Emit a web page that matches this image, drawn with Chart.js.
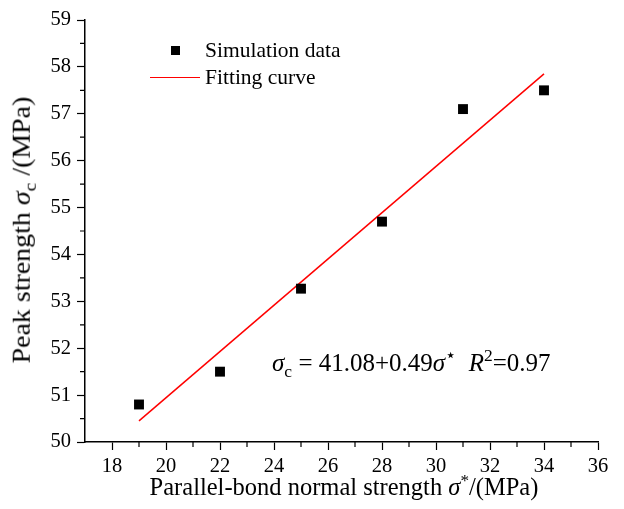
<!DOCTYPE html>
<html>
<head>
<meta charset="utf-8">
<script src="https://cdn.jsdelivr.net/npm/chart.js@4"></script>
<style>
  body { margin: 0; background: #fff; }
  #wrap { position: relative; width: 624px; height: 509px; font-family: "Liberation Serif", "DejaVu Serif", serif; color: #000; }
  #wrap canvas { position: absolute; left: 0; top: 0; }
  .txt { position: absolute; white-space: nowrap; line-height: 1; }
  .c { transform: translate(-50%, -50%); }
  .l { transform: translate(0, -50%); }
  sub, sup { font-size: 70%; line-height: 0; }
  .mk-sq { position: absolute; width: 9px; height: 9px; background: #000; }
  .mk-ln { position: absolute; width: 50px; height: 0; border-top: 1.5px solid #f00; }
</style>
</head>
<body>
<div id="wrap">
  <canvas id="chart" width="624" height="509"></canvas>
  <div class="txt" style="left:22px; top:230px; font-size:24.5px; transform: translate(-50%,-50%) rotate(-90deg) scale(1.14,1);">Peak strength <i>σ</i><sub>c</sub> /(MPa)</div>
  <div class="txt c" style="left:344px; top:487px; font-size:24.5px;">Parallel-bond normal strength <i>σ</i><sup>*</sup>/(MPa)</div>
  <div class="mk-sq" style="left:171px; top:46px;"></div>
  <div class="txt l" style="left:205px; top:51px; font-size:21.5px;">Simulation data</div>
  <div class="mk-ln" style="left:150px; top:77px;"></div>
  <div class="txt l" style="left:205px; top:78px; font-size:21.5px;">Fitting curve</div>
  <div class="txt l" style="left:272px; top:362px; font-size:25px;"><i>σ</i><sub>c</sub> = 41.08+0.49<i>σ</i><sup>⋆</sup> &nbsp;<i>R</i><sup>2</sup>=0.97</div>
</div>
<script>
const simX = [19, 22, 25, 28, 31, 34];
const simY = [50.8, 51.5, 53.27, 54.7, 57.1, 57.5];
const fitX = [19, 34];
const fitY = [50.45, 57.85];
const xTicks = [18, 20, 22, 24, 26, 28, 30, 32, 34, 36];
const xMinor = [19, 21, 23, 25, 27, 29, 31, 33, 35];
const yTicks = [50, 51, 52, 53, 54, 55, 56, 57, 58, 59];
const yMinor = [50.5, 51.5, 52.5, 53.5, 54.5, 55.5, 56.5, 57.5, 58.5];

const minorTicks = {
  id: 'minorTicks',
  afterDraw(chart) {
    const ctx = chart.ctx;
    const xs = chart.scales.x, ys = chart.scales.y;
    ctx.save();
    ctx.strokeStyle = '#000';
    ctx.lineWidth = 1.2;
    ctx.beginPath();
    xMinor.forEach(v => {
      const px = xs.getPixelForValue(v);
      ctx.moveTo(px, xs.top);
      ctx.lineTo(px, xs.top + 5);
    });
    yMinor.forEach(v => {
      const py = ys.getPixelForValue(v);
      ctx.moveTo(ys.right, py);
      ctx.lineTo(ys.right - 5, py);
    });
    ctx.stroke();
    ctx.restore();
  }
};

const tickFont = { family: '"Liberation Serif", serif', size: 20.5 };

new Chart(document.getElementById('chart'), {
  type: 'scatter',
  data: {
    datasets: [
      {
        label: 'Simulation data',
        data: simX.map((x, i) => ({ x: x, y: simY[i] })),
        pointStyle: 'rect',
        pointRadius: 7,
        backgroundColor: '#000',
        borderColor: '#000',
        borderWidth: 0
      },
      {
        label: 'Fitting curve',
        data: fitX.map((x, i) => ({ x: x, y: fitY[i] })),
        showLine: true,
        pointRadius: 0,
        borderColor: '#f00',
        borderWidth: 1.5
      }
    ]
  },
  options: {
    responsive: false,
    animation: false,
    layout: { padding: { left: 0, top: 20, right: 26, bottom: 0 } },
    plugins: { legend: { display: false }, tooltip: { enabled: false } },
    scales: {
      x: {
        type: 'linear',
        min: 17, max: 36,
        afterBuildTicks: s => { s.ticks = xTicks.map(v => ({ value: v })); },
        afterFit: s => { s.height = 67; },
        grid: { drawOnChartArea: false, drawTicks: true, tickLength: 8, color: '#000', tickWidth: 1.2 },
        border: { display: true, color: '#000', width: 1.5 },
        ticks: { color: '#000', font: tickFont, padding: 4, maxRotation: 0 }
      },
      y: {
        type: 'linear',
        min: 50, max: 59,
        afterBuildTicks: s => { s.ticks = yTicks.map(v => ({ value: v })); },
        afterFit: s => { s.width = 85; },
        grid: { drawOnChartArea: false, drawTicks: true, tickLength: 8, color: '#000', tickWidth: 1.2 },
        border: { display: true, color: '#000', width: 1.5 },
        ticks: { color: '#000', font: tickFont, padding: 6 }
      }
    }
  },
  plugins: [minorTicks]
});
</script>
</body>
</html>
